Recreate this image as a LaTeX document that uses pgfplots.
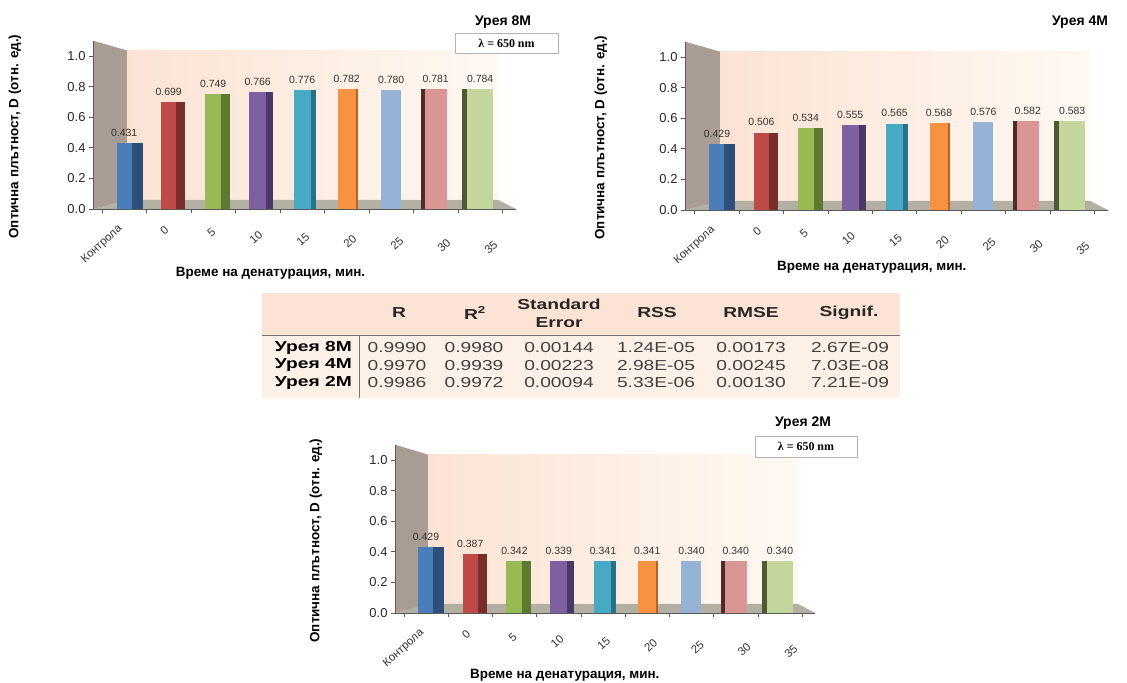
\documentclass[border=0pt]{standalone}
\usepackage{fontspec}
\setmainfont{Liberation Sans}
\newfontfamily\tabf[FakeStretch=1.33]{Liberation Sans}
\newfontfamily\serifb{Liberation Serif}
\usepackage{pgfplots}
\pgfplotsset{compat=1.18}

\definecolor{c1}{HTML}{4A7EBB}\definecolor{s1}{HTML}{2D4F7A}
\definecolor{c2}{HTML}{BE4B48}\definecolor{s2}{HTML}{7A2E2C}
\definecolor{c3}{HTML}{98B954}\definecolor{s3}{HTML}{5E7A30}
\definecolor{c4}{HTML}{7D60A0}\definecolor{s4}{HTML}{4B3965}
\definecolor{c5}{HTML}{46AAC5}\definecolor{s5}{HTML}{27718A}
\definecolor{c6}{HTML}{F69240}\definecolor{s6}{HTML}{B5651F}
\definecolor{c7}{HTML}{95B3D7}
\definecolor{c8}{HTML}{D99694}\definecolor{s8}{HTML}{4D2C2B}
\definecolor{c9}{HTML}{C3D69B}\definecolor{s9}{HTML}{4C5A34}
\definecolor{wallL}{HTML}{A89C94}
\definecolor{floorc}{HTML}{B3AFA2}
\definecolor{backL}{HTML}{FBE3D4}
\definecolor{backR}{HTML}{FFF9F2}
\definecolor{hdr}{HTML}{FBE4D5}
\definecolor{rowbg}{HTML}{FDF0E7}

% front bar: x, value, width, colour
\newcommand{\fbar}[4]{\addplot[ybar,bar width=#3bp,bar shift=0bp,fill=#4,draw=none,
  nodes near coords={\pgfmathprintnumber[fixed,fixed zerofill,precision=3,assume math mode=true]{\pgfplotspointmeta}},
  every node near coord/.append style={font=\fontsize{10.5}{12}\selectfont,text=black!80,yshift=3bp}]
  coordinates {(#1,#2)};}
% side face: x, value, width, shift, colour
\newcommand{\sbar}[5]{\addplot[ybar,bar width=#3bp,bar shift=#4bp,fill=#5,draw=none] coordinates {(#1,#2)};}

\pgfplotsset{chart/.style={
  anchor=south west, ymin=0, ymax=1.1,
  ytick={0,0.2,0.4,0.6,0.8,1.0},
  axis x line*=bottom, axis y line*=left,
  axis line style={draw=black!65, line width=0.6pt},
  axis on top, clip=false,
  xtick={0,1,2,3,4,5,6,7,8},
  xticklabels={Контрола,0,5,10,15,20,25,30,35},
  minor xtick={-0.5,0.5,1.5,2.5,3.5,4.5,5.5,6.5,7.5,8.5},
  major x tick style={draw=none},
  tick align=outside, major tick length=4bp, minor tick length=4bp,
  tick style={draw=black!65, line width=0.6pt},
  yticklabel style={font=\fontsize{13}{15}\selectfont, text=black!85,
    /pgf/number format/.cd, fixed, fixed zerofill, precision=1, assume math mode=true},
  xticklabel style={font=\fontsize{11.5}{13}\selectfont, text=black!80,
    xshift={-7bp+2.5bp*\ticknum}, yshift={-9bp-2.1bp*\ticknum},
    rotate=42, anchor=north east, inner sep=1pt},
  ylabel={Оптична плътност, D (отн. ед.)},
  xlabel={Време на денатурация, мин.},
}}
\newcommand{\lblfont}{\bfseries\fontsize{13.5}{15}\selectfont}

\begin{document}
\begin{tikzpicture}[x=1bp,y=1bp]
\path[use as bounding box] (0,0) rectangle (1127,683);

% ---------------- Chart 1: 8M ----------------
\begin{axis}[chart, at={(93bp,474bp)}, x=44.5bp, y=153bp, xmin=-0.7, xmax=8.8,
  every axis y label/.style={at={(axis description cs:-0.185,0.43)},rotate=90,anchor=center,font=\lblfont},
  every axis x label/.style={at={(axis description cs:0.42,0)},yshift=-64bp,anchor=center,font=\lblfont}]
\fill[wallL] (axis cs:-0.7,0) -- (axis cs:-0.7,1.1) -- (axis cs:0.08,1.035) -- (axis cs:0.08,0.055) -- cycle;
\fill[left color=backL, right color=backR] (axis cs:0.08,0.055) rectangle (axis cs:8.4,1.035);
\fill[floorc] (axis cs:-0.7,0) -- (axis cs:0.08,0.06) -- (axis cs:8.4,0.06) -- (axis cs:8.8,0) -- cycle;
\sbar{0}{0.431}{11}{13}{s1}\fbar{0}{0.431}{15}{c1}
\sbar{1}{0.699}{9}{12}{s2}\fbar{1}{0.699}{15}{c2}
\sbar{2}{0.749}{9}{12.5}{s3}\fbar{2}{0.749}{16}{c3}
\sbar{3}{0.766}{7}{12}{s4}\fbar{3}{0.766}{17}{c4}
\sbar{4}{0.776}{5}{11}{s5}\fbar{4}{0.776}{17}{c5}
\sbar{5}{0.782}{2}{10}{s6}\fbar{5}{0.782}{18}{c6}
\fbar{6}{0.780}{20}{c7}
\sbar{7}{0.781}{4}{-13}{s8}\fbar{7}{0.781}{22}{c8}
\sbar{8}{0.784}{5}{-15.5}{s9}\fbar{8}{0.784}{26}{c9}
\end{axis}
\node[font=\bfseries\fontsize{14}{16}\selectfont] at (503,661) {Урея 8M};
\node[draw=black!30, fill=white, minimum width=103bp, minimum height=20bp, inner sep=0pt,
  font=\serifb\bfseries\fontsize{12}{14}\selectfont] at (506.5,640) {λ = 650 nm};

% ---------------- Chart 2: 4M ----------------
\begin{axis}[chart, at={(685bp,473bp)}, x=44.4bp, y=153bp, xmin=-0.72, xmax=8.8,
  every axis y label/.style={at={(axis description cs:-0.199,0.43)},rotate=90,anchor=center,font=\lblfont},
  every axis x label/.style={at={(axis description cs:0.442,0)},yshift=-57bp,anchor=center,font=\lblfont}]
\fill[wallL] (axis cs:-0.72,0) -- (axis cs:-0.72,1.1) -- (axis cs:0.07,1.035) -- (axis cs:0.07,0.055) -- cycle;
\fill[left color=backL, right color=backR] (axis cs:0.07,0.055) rectangle (axis cs:8.4,1.035);
\fill[floorc] (axis cs:-0.72,0) -- (axis cs:0.07,0.06) -- (axis cs:8.4,0.06) -- (axis cs:8.8,0) -- cycle;
\sbar{0}{0.429}{11}{13}{s1}\fbar{0}{0.429}{15}{c1}
\sbar{1}{0.506}{9}{12}{s2}\fbar{1}{0.506}{15}{c2}
\sbar{2}{0.534}{9}{12.5}{s3}\fbar{2}{0.534}{16}{c3}
\sbar{3}{0.555}{7}{12}{s4}\fbar{3}{0.555}{17}{c4}
\sbar{4}{0.565}{5}{11}{s5}\fbar{4}{0.565}{17}{c5}
\sbar{5}{0.568}{2}{10}{s6}\fbar{5}{0.568}{18}{c6}
\fbar{6}{0.576}{20}{c7}
\sbar{7}{0.582}{4}{-13}{s8}\fbar{7}{0.582}{22}{c8}
\sbar{8}{0.583}{5}{-15.5}{s9}\fbar{8}{0.583}{26}{c9}
\end{axis}
\node[font=\bfseries\fontsize{14}{16}\selectfont] at (1080,661) {Урея 4M};

% ---------------- Table ----------------
\fill[hdr] (262,390) rectangle (900,348);
\fill[rowbg] (262,348) rectangle (900,285);
\draw[black!55, line width=0.7pt] (262,348) -- (900,348);
\draw[black!55, line width=0.7pt] (359,348) -- (359,285);
\begin{scope}[every node/.style={font=\tabf\bfseries\fontsize{14.5}{18}\selectfont, text=black!85, inner sep=0pt, align=center}]
\node at (399,370) {R};
\node at (475,370) {R\textsuperscript{2}};
\node at (559,370) {Standard\\Error};
\node at (657,370) {RSS};
\node at (751,370) {RMSE};
\node at (849,370) {Signif.};
\end{scope}
\begin{scope}[every node/.style={font=\tabf\bfseries\fontsize{14.5}{16}\selectfont, text=black, inner sep=0pt, anchor=east}]
\node at (352,335) {Урея 8M};
\node at (352,317.5) {Урея 4M};
\node at (352,300) {Урея 2M};
\end{scope}
\begin{scope}[every node/.style={font=\tabf\fontsize{14.5}{16}\selectfont, text=black!75, inner sep=0pt}]
\node at (397,335) {0.9990}; \node at (474,335) {0.9980}; \node at (559,335) {0.00144};
\node at (656,335) {1.24E-05}; \node at (751,335) {0.00173}; \node at (850,335) {2.67E-09};
\node at (397,317.5) {0.9970}; \node at (474,317.5) {0.9939}; \node at (559,317.5) {0.00223};
\node at (656,317.5) {2.98E-05}; \node at (751,317.5) {0.00245}; \node at (850,317.5) {7.03E-08};
\node at (397,300) {0.9986}; \node at (474,300) {0.9972}; \node at (559,300) {0.00094};
\node at (656,300) {5.33E-06}; \node at (751,300) {0.00130}; \node at (850,300) {7.21E-09};
\end{scope}

% ---------------- Chart 3: 2M ----------------
\begin{axis}[chart, at={(395bp,70bp)}, x=44.25bp, y=153bp, xmin=-0.70, xmax=8.8,
  every axis y label/.style={at={(axis description cs:-0.188,0.43)},rotate=90,anchor=center,font=\lblfont},
  every axis x label/.style={at={(axis description cs:0.404,0)},yshift=-62bp,anchor=center,font=\lblfont}]
\fill[wallL] (axis cs:-0.7,0) -- (axis cs:-0.7,1.1) -- (axis cs:0.05,1.035) -- (axis cs:0.05,0.055) -- cycle;
\fill[left color=backL, right color=backR] (axis cs:0.05,0.055) rectangle (axis cs:8.4,1.035);
\fill[floorc] (axis cs:-0.7,0) -- (axis cs:0.05,0.06) -- (axis cs:8.4,0.06) -- (axis cs:8.8,0) -- cycle;
\sbar{0}{0.429}{11}{13}{s1}\fbar{0}{0.429}{15}{c1}
\sbar{1}{0.387}{9}{12}{s2}\fbar{1}{0.387}{15}{c2}
\sbar{2}{0.342}{9}{12.5}{s3}\fbar{2}{0.342}{16}{c3}
\sbar{3}{0.339}{7}{12}{s4}\fbar{3}{0.339}{17}{c4}
\sbar{4}{0.341}{5}{11}{s5}\fbar{4}{0.341}{17}{c5}
\sbar{5}{0.341}{2}{10}{s6}\fbar{5}{0.341}{18}{c6}
\fbar{6}{0.340}{20}{c7}
\sbar{7}{0.340}{4}{-13}{s8}\fbar{7}{0.340}{22}{c8}
\sbar{8}{0.340}{5}{-15.5}{s9}\fbar{8}{0.340}{26}{c9}
\end{axis}
\node[font=\bfseries\fontsize{14}{16}\selectfont] at (803,260) {Урея 2M};
\node[draw=black!30, fill=white, minimum width=102bp, minimum height=21bp, inner sep=0pt,
  font=\serifb\bfseries\fontsize{12}{14}\selectfont] at (806,236.5) {λ = 650 nm};
\end{tikzpicture}
\end{document}
